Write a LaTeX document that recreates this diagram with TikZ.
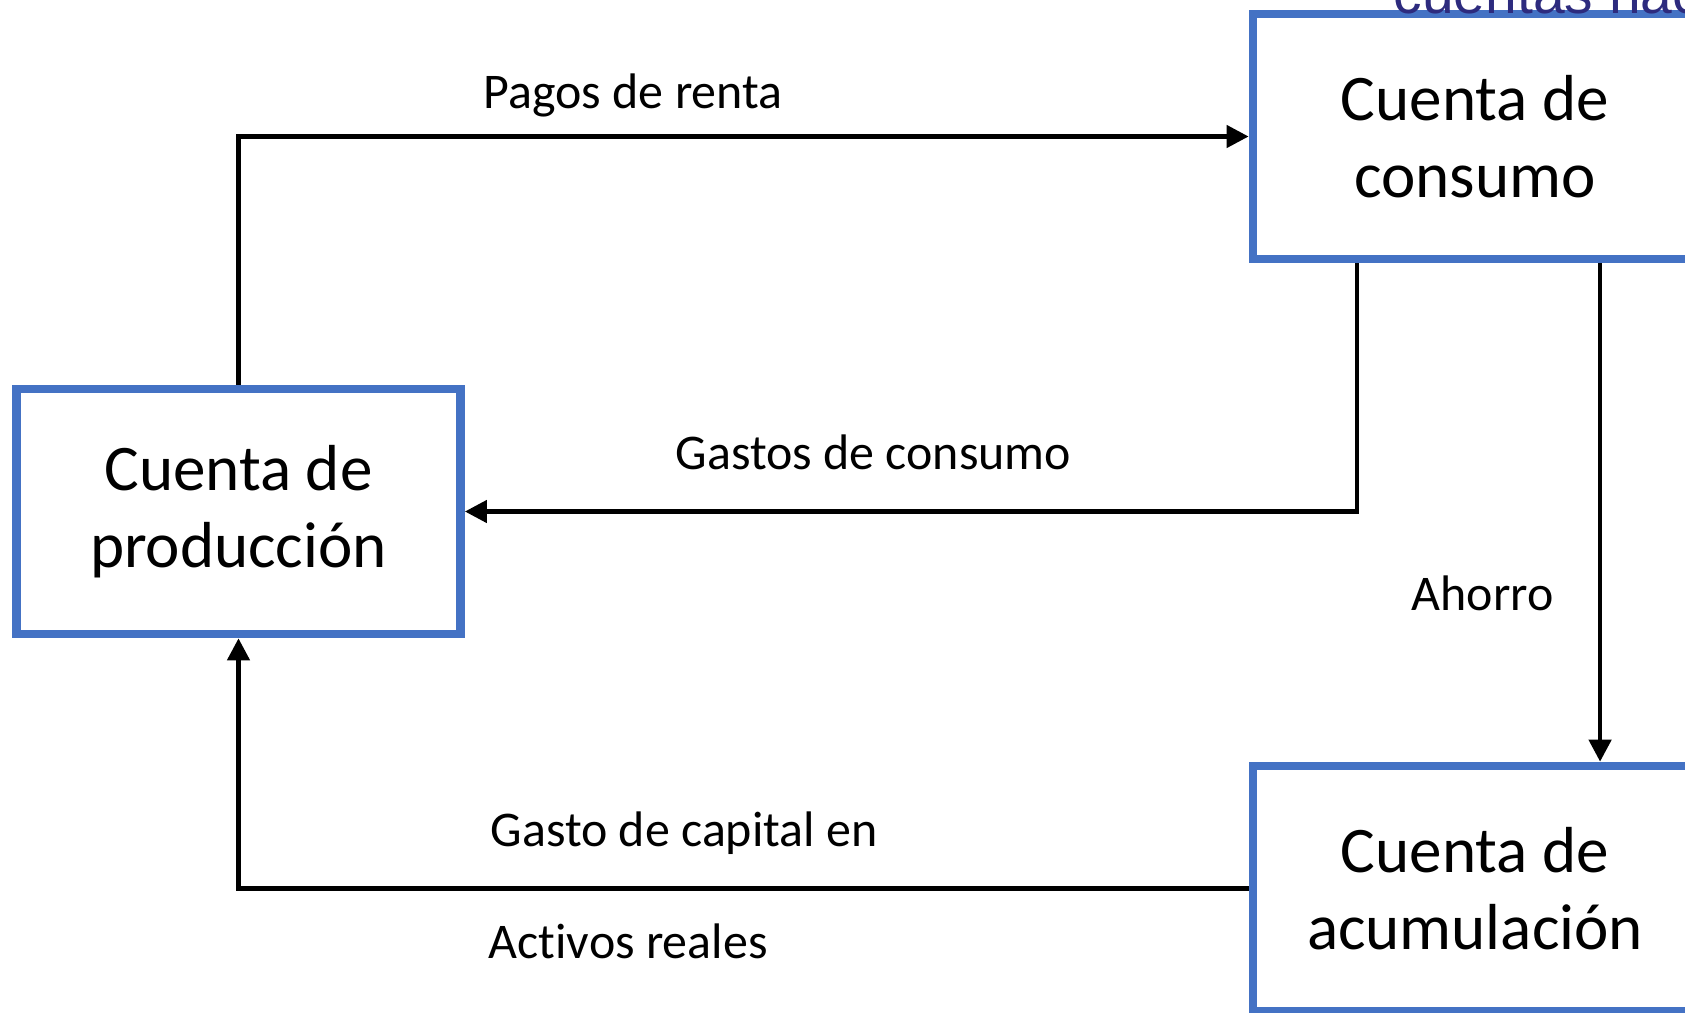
\documentclass[tikz,border=0pt]{standalone}
\usepackage{fontspec}
\setmainfont[Ligatures=NoCommon]{Carlito}
\newfontfamily\arialfont{Liberation Sans}
\usepackage{xcolor}
\usetikzlibrary{arrows.meta}
\usetikzlibrary{positioning}
\definecolor{cuentablue}{HTML}{4472C4}
\definecolor{titblue}{HTML}{2D2B7E}
\tikzset{
  cuenta/.style = {rectangle, draw=cuentablue, line width=0.085cm, fill=white,
    minimum width=4.44cm, minimum height=2.45cm, align=center,
    font=\fontsize{18.5}{21.8}\selectfont},% caja de cuenta
  flujo/.style = {line width=0.045cm, line join=miter,
    -{Triangle[length=0.22cm,width=0.22cm]}},% flecha de flujo
  etiq/.style = {anchor=base west, inner sep=0pt,
    font=\fontsize{14.2}{17}\selectfont}% texto de flujo
}

\begin{document}
\begin{tikzpicture}[x=0.01cm,y=-0.01cm]
\clip (0,0) rectangle (1685,1012);
\useasboundingbox (0,0) rectangle (1685,1012);
\node [cuenta] (cons) at (1475,136.5) {Cuenta de\\consumo};
\node [cuenta] (prod) at (238.5,511.5) {Cuenta de\\producción};
\node [cuenta] (acum) at (1475,888.5) {Cuenta de\\acumulación};
\node [anchor=base west, inner sep=0pt, text=titblue,
  font=\arialfont\fontsize{16.2}{19}\selectfont] (titulo) at (1393,14) {cuentas nacionales};

\draw [flujo] (prod.north) |- (cons.west);
\draw [flujo] ([xshift=-1.18cm]cons.south) |- (prod.east);
\draw [flujo] ([xshift=1.25cm]cons.south) -- ([xshift=1.25cm]acum.north);
\draw [flujo] (acum.west) -| (prod.south);

\node [etiq] (renta) at (483,108) {Pagos de renta};
\node [etiq] (gastos) at (675,469) {Gastos de consumo};
\node [etiq] (ahorro) at (1411,610) {Ahorro};
\node [etiq] (capital) at (490,846) {Gasto de capital en};
\node [etiq] (activos) at (488,958) {Activos reales};
\end{tikzpicture}
\end{document}
